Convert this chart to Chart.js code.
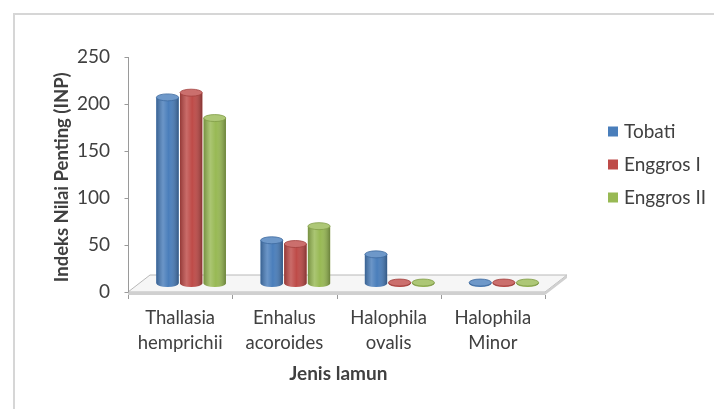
<!DOCTYPE html>
<html>
<head>
<meta charset="utf-8">
<script src="https://cdn.jsdelivr.net/npm/chart.js@4"></script>
<style>
  body { margin: 0; background: #fff; }
  #wrap { position: relative; width: 714px; height: 409px; overflow: hidden; }
  #frame { position: absolute; left: 13px; top: 13px; right: -10px; bottom: -10px;
           border-left: 2px solid #d6d6d6; border-top: 2px solid #d6d6d6; }
  canvas { position: absolute; left: 0; top: 0; }
</style>
</head>
<body>
<div id="wrap">
  <div id="frame"></div>
  <canvas id="chart" width="714" height="409"></canvas>
</div>
<script>
const categories = [['Thallasia', 'hemprichii'], ['Enhalus', 'acoroides'], ['Halophila', 'ovalis'], ['Halophila', 'Minor']];
const seriesNames = ['Tobati', 'Enggros I', 'Enggros II'];
const tobati = [198, 46, 31, 1];
const enggrosI = [203, 42, 1, 1];
const enggrosII = [176, 61, 1, 1];
const yTicks = [0, 50, 100, 150, 200, 250];

const colors = ['#4a7ebb', '#be4b48', '#98b954'];
const FONT = 'Lato, "Liberation Sans", sans-serif';
const TEXT = '#404040';
// offset of the front plane from the middle plane (3d look)
const DX = 11, DY = 8.5;

function shade(hex, amt) {
    const n = parseInt(hex.slice(1), 16);
    const f = c => Math.round(amt > 0 ? c + (255 - c) * amt : c * (1 + amt));
    return `rgb(${f(n >> 16)}, ${f((n >> 8) & 255)}, ${f(n & 255)})`;
}

// floor + left axis drawn like the excel 3d frame
const frame3d = {
    id: 'frame3d',
    beforeDatasetsDraw(chart) {
        const { ctx, chartArea: a, scales: { y } } = chart;
        const fl = a.left - DX, fr = a.right - DX, fb = a.bottom + DY;
        const bl = a.left + DX, br = a.right + DX, bb = a.bottom - DY;
        ctx.save();
        ctx.lineWidth = 1;
        ctx.strokeStyle = '#b8b8b8';
        ctx.fillStyle = '#f6f6f6';
        ctx.beginPath();
        ctx.moveTo(fl, fb); ctx.lineTo(fr, fb); ctx.lineTo(br, bb); ctx.lineTo(bl, bb);
        ctx.closePath();
        ctx.fill(); ctx.stroke();
        // slab edge
        ctx.fillStyle = '#d0d0d0';
        ctx.beginPath();
        ctx.moveTo(fl, fb); ctx.lineTo(fr, fb); ctx.lineTo(br, bb); ctx.lineTo(br, bb + 3);
        ctx.lineTo(fr, fb + 3); ctx.lineTo(fl, fb + 3);
        ctx.closePath();
        ctx.fill();
        // category ticks
        ctx.strokeStyle = '#9a9a9a';
        const step = (a.right - a.left) / categories.length;
        ctx.beginPath();
        for (let i = 0; i <= categories.length; i++) {
            const px = Math.round(a.left + step * i - DX) + 0.5;
            ctx.moveTo(px, fb + 3); ctx.lineTo(px, fb + 7);
        }
        // value axis
        const ax = Math.round(fl) + 0.5;
        ctx.moveTo(ax, y.getPixelForValue(yTicks[yTicks.length - 1]) + DY);
        ctx.lineTo(ax, fb);
        yTicks.forEach(v => {
            const py = Math.round(y.getPixelForValue(v) + DY) + 0.5;
            ctx.moveTo(ax - 4, py); ctx.lineTo(ax, py);
        });
        ctx.stroke();
        ctx.restore();
    }
};

// shade bars into cylinders
const cylinders = {
    id: 'cylinders',
    afterDatasetsDraw(chart) {
        const ctx = chart.ctx;
        chart.data.datasets.forEach((ds, di) => {
            const color = ds.backgroundColor;
            chart.getDatasetMeta(di).data.forEach(el => {
                const { x, y, base, width } = el.getProps(['x', 'y', 'base', 'width'], true);
                const r = width / 2, ry = 3.5, left = x - r;
                ctx.save();
                ctx.beginPath();
                ctx.moveTo(left, y);
                ctx.lineTo(left, base);
                ctx.ellipse(x, base, r, ry, 0, Math.PI, 0, true);
                ctx.lineTo(left + width, y);
                ctx.closePath();
                ctx.fillStyle = color;
                ctx.fill();
                const g = ctx.createLinearGradient(left, 0, left + width, 0);
                g.addColorStop(0, 'rgba(0,0,0,0.22)');
                g.addColorStop(0.3, 'rgba(255,255,255,0.18)');
                g.addColorStop(0.55, 'rgba(255,255,255,0)');
                g.addColorStop(1, 'rgba(0,0,0,0.3)');
                ctx.fillStyle = g;
                ctx.fill();
                ctx.beginPath();
                ctx.ellipse(x, y, r, ry, 0, 0, Math.PI * 2);
                ctx.fillStyle = shade(color, 0.2);
                ctx.fill();
                ctx.strokeStyle = shade(color, -0.15);
                ctx.lineWidth = 0.8;
                ctx.stroke();
                ctx.restore();
            });
        });
    }
};

const sideLegend = {
    id: 'sideLegend',
    afterDraw(chart) {
        const ctx = chart.ctx;
        ctx.save();
        ctx.font = '19px ' + FONT;
        ctx.textBaseline = 'middle';
        chart.data.datasets.forEach((ds, i) => {
            const cy = 131 + 33 * i;
            ctx.fillStyle = ds.backgroundColor;
            ctx.fillRect(608, cy - 4.5, 10, 10);
            ctx.fillStyle = TEXT;
            ctx.fillText(ds.label, 624, cy + 1);
        });
        ctx.restore();
    }
};

const seriesData = [tobati, enggrosI, enggrosII];

new Chart(document.getElementById('chart'), {
    type: 'bar',
    data: {
        labels: categories,
        datasets: seriesNames.map((name, i) => ({
            label: name,
            data: seriesData[i],
            backgroundColor: colors[i],
            barPercentage: 0.94,
            categoryPercentage: 0.68
        }))
    },
    options: {
        responsive: false,
        animation: false,
        devicePixelRatio: 1,
        layout: { padding: { left: 40, right: 158, top: 48.5, bottom: 0 } },
        plugins: { legend: { display: false }, tooltip: { enabled: false } },
        scales: {
            x: {
                grid: { display: false },
                border: { display: false },
                ticks: {
                    color: TEXT, font: { family: FONT, size: 18.5, lineHeight: 1.3 },
                    padding: 15, labelOffset: -DX, maxRotation: 0, autoSkip: false
                },
                title: {
                    display: true, text: 'Jenis lamun    ', color: TEXT,
                    font: { family: FONT, size: 19, weight: 'bold' },
                    padding: { top: 0, bottom: 24 }
                },
                afterFit: s => { s.height = 125.5; }
            },
            y: {
                min: 0, max: 250,
                grid: { display: false },
                border: { display: false },
                ticks: {
                    stepSize: 50, color: TEXT, font: { family: FONT, size: 19 },
                    padding: 21, labelOffset: DY
                },
                title: {
                    display: true, text: 'Indeks Nilai Penting (INP)     ', color: TEXT,
                    font: { family: FONT, size: 18.5, weight: 'bold' },
                    padding: { top: 11, bottom: 0 }
                },
                afterFit: s => { s.width = 99; }
            }
        }
    },
    plugins: [frame3d, cylinders, sideLegend]
});
</script>
</body>
</html>
